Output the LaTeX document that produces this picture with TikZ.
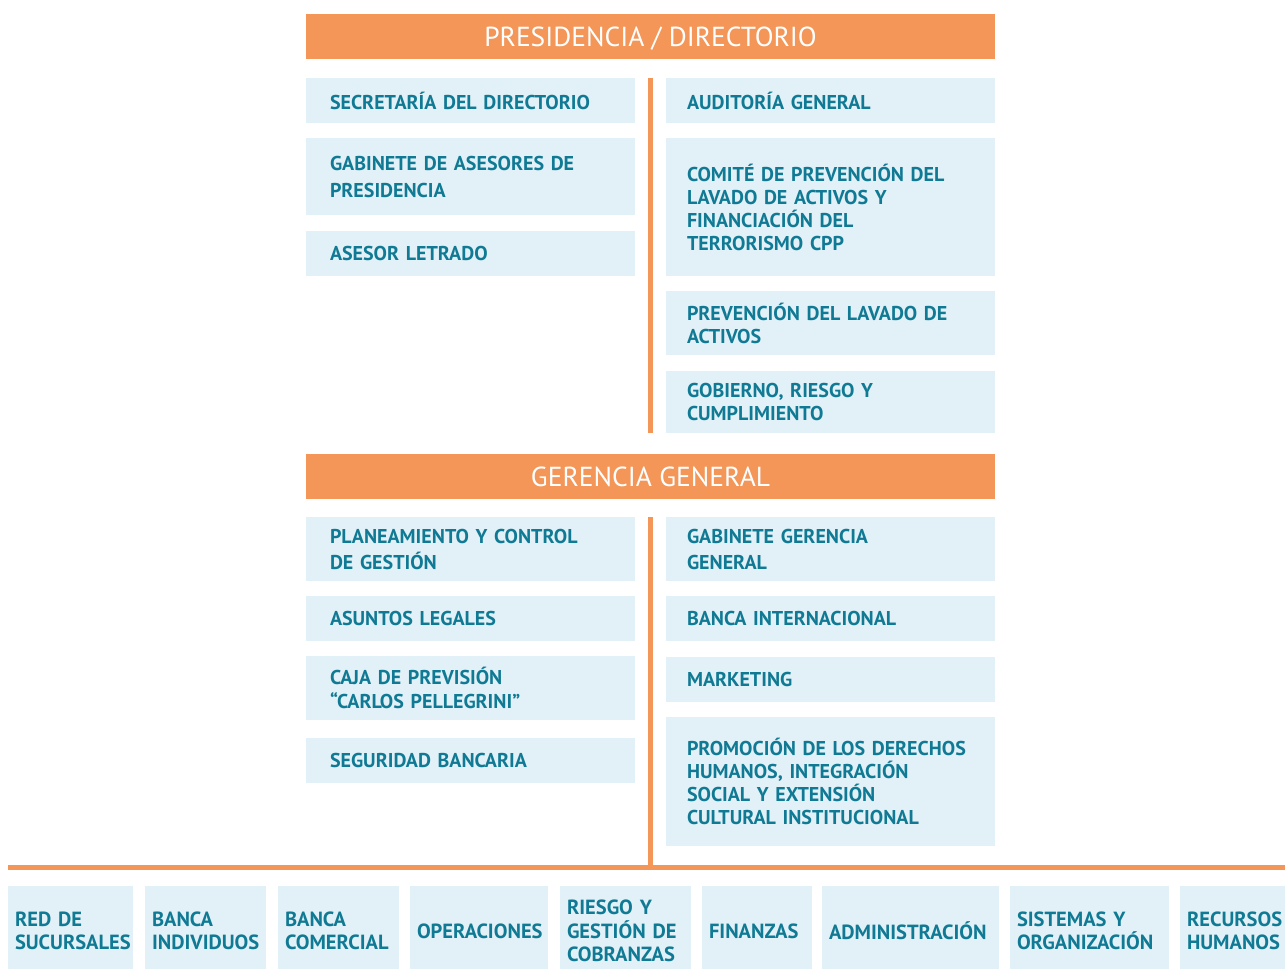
\documentclass[tikz,border=0pt]{standalone}
\usepackage{fontspec}
\setmainfont{PT Sans}
\usetikzlibrary{calc}

\definecolor{orgcol}{RGB}{243,150,87}
\definecolor{boxcol}{RGB}{226,241,247}
\definecolor{txtcol}{RGB}{16,122,148}

\tikzset{
	head/.style={fill=orgcol, text=white, minimum width=689pt, minimum height=45pt, inner sep=0pt, text height=19pt, text depth=0pt, font=\fontsize{27.5}{32}\selectfont},
	lunit/.style={fill=boxcol, text=txtcol, inner xsep=24pt, inner ysep=0pt, text width=281pt, align=left, font=\bfseries\fontsize{20}{23}\selectfont},
	runit/.style={lunit, inner xsep=21pt, text width=287pt},
	bunit/.style={fill=boxcol, text=txtcol, inner xsep=7pt, inner ysep=0pt, minimum height=90pt, align=left, font=\bfseries\fontsize{20.5}{23.5}\selectfont},
	link/.style={orgcol, line width=5pt}
}

\begin{document}
\begin{tikzpicture}[x=1pt, y=-1pt]
			\useasboundingbox (0,0) rectangle (1285,969);
			\clip (0,0) rectangle (1285,969);
			
			% Headers
			\node[head] (pres) at (650.5,36.5) {PRESIDENCIA / DIRECTORIO};
			\node[head] (ger) at (650.5,476.5) {GERENCIA GENERAL};
			
			% Presidencia, left column
			\node[lunit, minimum height=45pt] (secre) at (470.5,100.5) {SECRETARÍA DEL DIRECTORIO};
			\node[lunit, minimum height=77pt] (gabase) at (470.5,176.5) {GABINETE DE ASESORES DE\\[4pt]PRESIDENCIA};
			\node[lunit, minimum height=45pt] (asesor) at (470.5,253.5) {ASESOR LETRADO};
			
			% Presidencia, right column
			\node[runit, minimum height=45pt] (audit) at (830.5,100.5) {AUDITORÍA GENERAL};
			\node[runit, minimum height=138pt] (comite) at (830.5,207) {COMITÉ DE PREVENCIÓN DEL\\LAVADO DE ACTIVOS Y\\FINANCIACIÓN DEL\\TERRORISMO CPP};
			\node[runit, minimum height=64pt] (prev) at (830.5,323) {PREVENCIÓN DEL LAVADO DE\\ACTIVOS};
			\node[runit, minimum height=62pt] (gob) at (830.5,402) {GOBIERNO, RIESGO Y\\CUMPLIMIENTO};
			
			% Gerencia, left column
			\node[lunit, minimum height=64pt] (plan) at (470.5,549) {PLANEAMIENTO Y CONTROL\\[3pt]DE GESTIÓN};
			\node[lunit, minimum height=45pt] (legal) at (470.5,618.5) {ASUNTOS LEGALES};
			\node[lunit, minimum height=64pt] (caja) at (470.5,688) {CAJA DE PREVISIÓN\\[1pt]“CARLOS PELLEGRINI”};
			\node[lunit, minimum height=45pt] (segur) at (470.5,760.5) {SEGURIDAD BANCARIA};
			
			% Gerencia, right column
			\node[runit, minimum height=64pt] (gabgg) at (830.5,549) {GABINETE GERENCIA\\[3pt]GENERAL};
			\node[runit, minimum height=45pt] (bint) at (830.5,618.5) {BANCA INTERNACIONAL};
			\node[runit, minimum height=45pt] (mkt) at (830.5,679.5) {MARKETING};
			\node[runit, minimum height=129pt] (promo) at (830.5,781.5) {PROMOCIÓN DE LOS DERECHOS\\HUMANOS, INTEGRACIÓN\\SOCIAL Y EXTENSIÓN\\CULTURAL INSTITUCIONAL};
			
			% Bottom row
			\node[bunit, text width=111pt] (red) at (70.5,931) {RED DE\\SUCURSALES};
			\node[bunit, text width=107pt] (bind) at (205.5,931) {BANCA\\INDIVIDUOS};
			\node[bunit, text width=107pt] (bcom) at (338.5,931) {BANCA\\COMERCIAL};
			\node[bunit, text width=124pt] (oper) at (479,931) {OPERACIONES};
			\node[bunit, text width=117pt] (riesgo) at (625.5,931) {RIESGO Y\\GESTIÓN DE\\COBRANZAS};
			\node[bunit, text width=96pt] (fin) at (757,931) {FINANZAS};
			\node[bunit, text width=163pt] (adm) at (910.5,931) {ADMINISTRACIÓN};
			\node[bunit, text width=145pt] (sist) at (1089.5,931) {SISTEMAS Y\\ORGANIZACIÓN};
			\node[bunit, text width=106pt] (rrhh) at (1240,931) {RECURSOS\\HUMANOS};
			
			% Connectors
			\coordinate (hmid) at (650.5,867.5);
			\coordinate (hleft) at (8,867.5);
			\coordinate (hright) at (1290,867.5);
			\draw[link, shorten <=19pt, shorten >=21pt] (pres) -- (ger);
			\draw[link, shorten <=18pt] (ger) -- (hmid);
			\draw[link] (hleft) -- (hright);
\end{tikzpicture}
\end{document}
